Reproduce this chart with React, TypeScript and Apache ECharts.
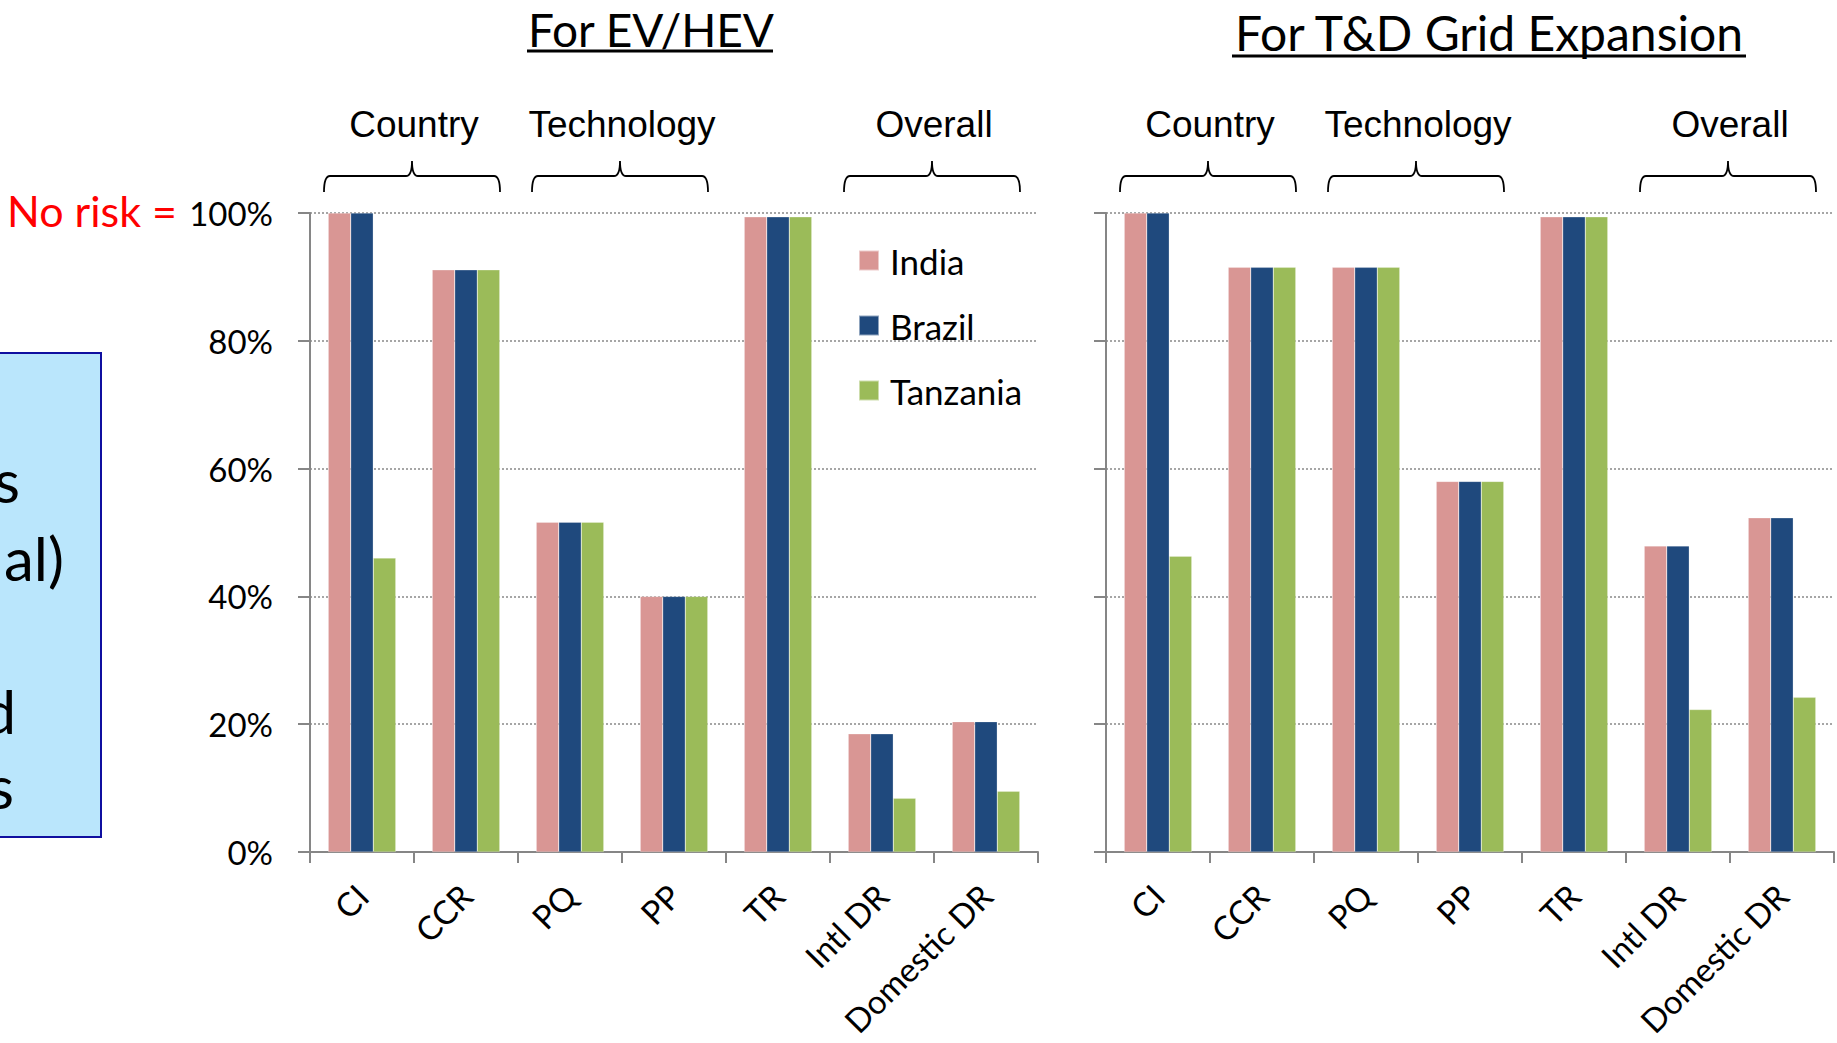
import React, { useEffect, useRef } from "react";
import * as echarts from "echarts";

// ---------- data ----------
const categories = ["CI", "CCR", "PQ", "PP", "TR", "Intl DR", "Domestic DR"];
const seriesNames = ["India", "Brazil", "Tanzania"];
const seriesColors = ["#D99694", "#1F497D", "#9BBB59"];

// For EV/HEV (fraction, 1 = no risk)
const evIndia = [1.0, 0.911, 0.516, 0.40, 0.994, 0.185, 0.204];
const evBrazil = [1.0, 0.911, 0.516, 0.40, 0.994, 0.185, 0.204];
const evTanzania = [0.46, 0.911, 0.516, 0.40, 0.994, 0.084, 0.095];

// For T&D Grid Expansion
const tdIndia = [1.0, 0.915, 0.915, 0.58, 0.994, 0.479, 0.523];
const tdBrazil = [1.0, 0.915, 0.915, 0.58, 0.994, 0.479, 0.523];
const tdTanzania = [0.463, 0.915, 0.915, 0.58, 0.994, 0.223, 0.242];

const yTicks = [0, 0.2, 0.4, 0.6, 0.8, 1.0];
const groupLabels = ["Country", "Technology", "Overall"];
const groupRanges = [[0, 1], [2, 3], [5, 6]];
const titles = ["For EV/HEV", "For T&D Grid Expansion"];

// ---------- layout ----------
const W = 1837;
const H = 1043;
const GRID_TOP = 213;
const GRID_BOTTOM = H - 852;
const G1_LEFT = 310;
const G1_WIDTH = 728;
const G2_LEFT = 1106;
const G2_WIDTH = 728;
const FONT = "Lato, 'Open Sans', sans-serif";

let braceRegistered = false;
function registerBrace() {
  if (braceRegistered) return;
  const Brace = (echarts.graphic as any).extendShape({
    shape: { x1: 0, x2: 0, y: 0, h: 16, t: 15 },
    buildPath(ctx: any, s: any) {
      const mid = (s.x1 + s.x2) / 2;
      const r = 6;
      ctx.moveTo(s.x1, s.y + s.h);
      ctx.quadraticCurveTo(s.x1, s.y, s.x1 + r, s.y);
      ctx.lineTo(mid - r, s.y);
      ctx.quadraticCurveTo(mid, s.y, mid, s.y - s.t);
      ctx.quadraticCurveTo(mid, s.y, mid + r, s.y);
      ctx.lineTo(s.x2 - r, s.y);
      ctx.quadraticCurveTo(s.x2, s.y, s.x2, s.y + s.h);
    },
  });
  (echarts.graphic as any).registerShape("brace", Brace);
  braceRegistered = true;
}

function App() {
  const ref = useRef<HTMLDivElement>(null);

  useEffect(() => {
    document.body.style.margin = "0";
    registerBrace();
    const chart = echarts.init(ref.current!, null, { renderer: "svg" });

    const axisGray = "#868686";
    const makeX = (gridIndex: number) => ({
      type: "category",
      gridIndex,
      data: categories,
      axisLine: { lineStyle: { color: axisGray, width: 2 } },
      axisTick: { show: true, length: 11, lineStyle: { color: axisGray, width: 2 } },
      axisLabel: {
        rotate: 45,
        margin: 38,
        color: "#000",
        fontSize: 33,
        fontFamily: FONT,
        interval: 0,
      },
      splitLine: { show: false },
    });
    const makeY = (gridIndex: number, showLabels: boolean) => ({
      type: "value",
      gridIndex,
      min: 0,
      max: 1,
      interval: 0.2,
      axisLine: { show: true, lineStyle: { color: axisGray, width: 2 } },
      axisTick: { show: true, length: 12, lineStyle: { color: axisGray, width: 2 } },
      axisLabel: {
        show: showLabels,
        margin: 37,
        color: "#000",
        fontSize: 33,
        fontFamily: FONT,
        padding: [0, 0, 4, 0],
        formatter: (v: number) => (yTicks.some((t) => Math.abs(t - v) < 1e-6) ? Math.round(v * 100) + "%" : ""),
      },
      splitLine: { show: true, lineStyle: { color: "#A6A6A6", type: "dotted", width: 2 } },
    });

    const dataSets = [
      [evIndia, evBrazil, evTanzania],
      [tdIndia, tdBrazil, tdTanzania],
    ];
    const series: any[] = [];
    dataSets.forEach((set, gi) => {
      set.forEach((vals, si) => {
        series.push({
          type: "bar",
          name: seriesNames[si],
          xAxisIndex: gi,
          yAxisIndex: gi,
          data: vals,
          barGap: "0%",
          barCategoryGap: "35%",
          itemStyle: { color: seriesColors[si], borderColor: "rgba(255,255,255,0.5)", borderWidth: 0.5 },
        });
      });
    });

    // annotations: braces and group labels
    const catW1 = G1_WIDTH / categories.length;
    const catW2 = G2_WIDTH / categories.length;
    const graphics: any[] = [];
    const addGroups = (left: number, catW: number) => {
      groupRanges.forEach((rg, i) => {
        const x1 = left + rg[0] * catW + 14;
        const x2 = left + (rg[1] + 1) * catW - 18;
        graphics.push({
          type: "brace",
          shape: { x1, x2, y: 176, h: 16, t: 15 },
          style: { fill: null, stroke: "#000", lineWidth: 1.8 },
          silent: true,
        });
        graphics.push({
          type: "text",
          x: (x1 + x2) / 2 + 2,
          y: 124,
          style: {
            text: groupLabels[i],
            fontSize: 37,
            fontFamily: "'Liberation Sans', Arial, sans-serif",
            fill: "#000",
            align: "center",
            verticalAlign: "middle",
          },
        });
      });
    };
    addGroups(G1_LEFT, catW1);
    addGroups(G2_LEFT, catW2);

    // titles with underline
    const titleDefs = [
      { text: titles[0], cx: 651, cy: 29, fs: 46, ux1: 527, ux2: 773, uy: 51 },
      { text: titles[1], cx: 1489, cy: 32, fs: 48, ux1: 1232, ux2: 1746, uy: 56 },
    ];
    titleDefs.forEach((t) => {
      graphics.push({
        type: "text",
        x: t.cx,
        y: t.cy,
        style: { text: t.text, fontSize: t.fs, fontFamily: FONT, fill: "#000", align: "center", verticalAlign: "middle" },
      });
      graphics.push({
        type: "line",
        shape: { x1: t.ux1, y1: t.uy, x2: t.ux2, y2: t.uy },
        style: { stroke: "#000", lineWidth: 3 },
      });
    });

    // "No risk =" annotation
    graphics.push({
      type: "text",
      x: 177,
      y: 210,
      style: { text: "No risk =", fontSize: 43, fontFamily: FONT, fill: "#FF0000", align: "right", verticalAlign: "middle" },
    });

    // clipped side box
    graphics.push({
      type: "rect",
      shape: { x: -10, y: 353, width: 111, height: 484 },
      style: { fill: "#BAE6FC", stroke: "#0F0FA0", lineWidth: 2 },
    });
    const boxTexts = [
      { t: "s", x: 20, y: 480 },
      { t: "al)", x: 64, y: 558 },
      { t: "d", x: 16, y: 711 },
      { t: "s", x: 14, y: 786 },
    ];
    boxTexts.forEach((b) => {
      graphics.push({
        type: "text",
        x: b.x,
        y: b.y,
        style: { text: b.t, fontSize: 60, fontFamily: FONT, fill: "#000", align: "right", verticalAlign: "middle" },
      });
    });

    chart.setOption({
      animation: false,
      backgroundColor: "#fff",
      textStyle: { fontFamily: FONT },
      grid: [
        { left: G1_LEFT, width: G1_WIDTH, top: GRID_TOP, bottom: GRID_BOTTOM, containLabel: false },
        { left: G2_LEFT, width: G2_WIDTH, top: GRID_TOP, bottom: GRID_BOTTOM, containLabel: false },
      ],
      xAxis: [makeX(0), makeX(1)],
      yAxis: [makeY(0, true), makeY(1, false)],
      legend: {
        data: seriesNames,
        orient: "vertical",
        left: 858,
        top: 243,
        padding: 0,
        itemWidth: 20,
        itemHeight: 20,
        itemGap: 30,
        icon: "rect",
        selectedMode: false,
        textStyle: { fontSize: 35, lineHeight: 35, fontFamily: FONT, color: "#000", padding: [0, 0, 0, 6] },
      },
      series,
      graphic: graphics,
    });

    return () => chart.dispose();
  }, []);

  return <div ref={ref} style={{ width: W, height: H }} />;
}

export default App;
